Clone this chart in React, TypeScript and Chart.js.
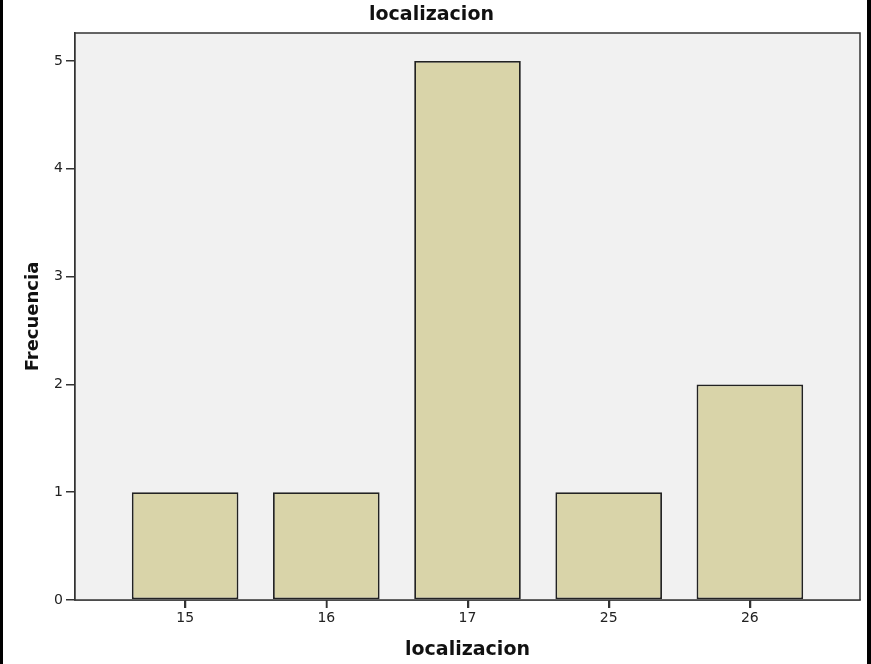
import React, { useEffect, useRef } from "react";
import { Chart, registerables } from "chart.js";

Chart.register(...registerables);

const categories = ["15", "16", "17", "25", "26"];
const frequencies = [1, 1, 5, 1, 2];
const chartTitle = "localizacion";
const xTitle = "localizacion";
const yTitle = "Frecuencia";

const FONT = "'DejaVu Sans', sans-serif";

const plotFrame = {
  id: "plotFrame",
  beforeDatasetsDraw(chart: any) {
    const { ctx, chartArea } = chart;
    ctx.save();
    ctx.fillStyle = "#f1f1f1";
    ctx.fillRect(chartArea.left, chartArea.top, chartArea.right - chartArea.left, chartArea.bottom - chartArea.top);
    ctx.restore();
  },
  afterDraw(chart: any) {
    const { ctx, chartArea } = chart;
    ctx.save();
    ctx.strokeStyle = "#333333";
    ctx.lineWidth = 1.5;
    ctx.strokeRect(chartArea.left, chartArea.top, chartArea.right - chartArea.left, chartArea.bottom - chartArea.top);
    // category tick marks below the x axis, placed by the x scale
    const xs = chart.scales.x;
    ctx.beginPath();
    for (let i = 0; i < xs.ticks.length; i++) {
      const px = Math.round(xs.getPixelForTick(i)) + 0.5;
      ctx.moveTo(px, chartArea.bottom);
      ctx.lineTo(px, chartArea.bottom + 8);
    }
    ctx.stroke();
    ctx.restore();
  },
};

export default function App() {
  const ref = useRef<HTMLCanvasElement | null>(null);

  useEffect(() => {
    if (!ref.current) return;
    const chart = new Chart(ref.current, {
      type: "bar",
      data: {
        datasets: [
          {
            data: frequencies.map((v, i) => ({ x: i, y: v })),
            backgroundColor: "#d9d4a9",
            borderColor: "#222222",
            borderWidth: 1.8,
            borderSkipped: false,
            categoryPercentage: 1,
            barPercentage: 0.755,
          },
        ],
      },
      plugins: [plotFrame],
      options: {
        animation: false,
        responsive: true,
        maintainAspectRatio: false,
        layout: { padding: { left: 0, right: 7, top: 0, bottom: 0 } },
        plugins: {
          legend: { display: false },
          tooltip: { enabled: false },
          title: {
            display: true,
            text: chartTitle,
            color: "#111111",
            font: { family: FONT, size: 19, weight: "bold", lineHeight: 1.2 },
            padding: { top: 4, bottom: 6.2 },
          },
        },
        scales: {
          x: {
            type: "linear",
            offset: false,
            min: -0.78,
            max: 4.78,
            afterBuildTicks: (scale: any) => {
              scale.ticks = categories.map((_, i) => ({ value: i }));
            },
            afterFit: (scale: any) => {
              scale.height = 64;
            },
            ticks: {
              autoSkip: false,
              maxRotation: 0,
              padding: 2,
              color: "#222222",
              font: { family: FONT, size: 14 },
              callback: (value: any) => categories[Math.round(Number(value))] ?? "",
            },
            grid: {
              offset: false,
              drawOnChartArea: false,
              drawTicks: true,
              tickLength: 8,
              color: "#333333",
              lineWidth: 1.5,
            },
            border: { display: true, color: "#333333", width: 1.5 },
            title: {
              display: true,
              text: xTitle,
              color: "#111111",
              font: { family: FONT, size: 19, weight: "bold", lineHeight: 1.2 },
              padding: { top: 0, bottom: 2.6 },
            },
          },
          y: {
            type: "linear",
            min: 0,
            max: 5.26,
            afterFit: (scale: any) => {
              scale.width = 72;
            },
            ticks: {
              stepSize: 1,
              includeBounds: false,
              padding: 3,
              color: "#222222",
              font: { family: FONT, size: 14 },
            },
            grid: {
              drawOnChartArea: false,
              drawTicks: true,
              tickLength: 9,
              color: "#333333",
              lineWidth: 1.5,
            },
            border: { display: true, color: "#333333", width: 1.5 },
            title: {
              display: true,
              text: yTitle,
              color: "#111111",
              font: { family: FONT, size: 18, weight: "bold", lineHeight: 1.2 },
              padding: { top: 19.5, bottom: 0 },
            },
          },
        },
      },
    });
    return () => chart.destroy();
  }, []);

  return (
    <div
      style={{
        position: "fixed",
        left: 0,
        top: 0,
        width: 871,
        height: 664,
        display: "flex",
        background: "#ffffff",
      }}
    >
      <div style={{ width: 3, height: 664, background: "#000000" }} />
      <div style={{ position: "relative", width: 864, height: 664 }}>
        <canvas ref={ref} />
      </div>
      <div style={{ width: 4, height: 664, background: "#000000" }} />
    </div>
  );
}
